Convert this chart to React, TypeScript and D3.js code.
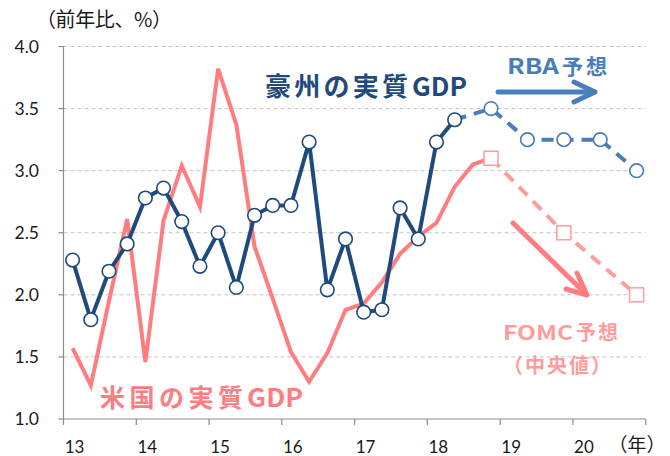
import React from "react";
import * as d3 from "d3";

const yTicks = [1.0, 1.5, 2.0, 2.5, 3.0, 3.5, 4.0];
const yearTicks = [2013, 2014, 2015, 2016, 2017, 2018, 2019, 2020, 2021];
const yearLabels = ["13", "14", "15", "16", "17", "18", "19", "20"];

// Quarterly YoY real GDP, 2013Q1 onwards
const ausActual = [2.28, 1.80, 2.19, 2.41, 2.78, 2.86, 2.59, 2.23, 2.50, 2.06, 2.64, 2.72, 2.72, 3.23, 2.04, 2.45, 1.86, 1.88, 2.70, 2.45, 3.23, 3.41];
const usActual = [1.57, 1.27, 1.95, 2.61, 1.46, 2.60, 3.04, 2.71, 3.82, 3.37, 2.39, 1.97, 1.54, 1.30, 1.53, 1.88, 1.93, 2.10, 2.33, 2.47, 2.58, 2.87, 3.05];

// Forecasts: quarter index (0 = 2013Q1) and value
const rbaQuarters = [23, 25, 27, 29, 31];
const rbaValues = [3.5, 3.25, 3.25, 3.25, 3.0];
const fomcQuarters = [23, 27, 31];
const fomcValues = [3.1, 2.5, 2.0];

const W = 670, H = 456;
const x = d3.scaleLinear().domain([2013, 2021]).range([63.5, 645.7]);
const y = d3.scaleLinear().domain([1, 4]).range([419, 46.5]);
const qx = (i: number) => x(2013 + (i + 0.5) / 4);

const DARK = "#1F4A7C";
const BLUE = "#4A7EBB";
const PINK = "#FF7C80";
const LPINK = "#FF9C9C";
const JP = "'Noto Sans CJK JP', 'Noto Sans', sans-serif";
const NUM = "Lato, 'Open Sans', sans-serif";

type P = [number, number];
const line = d3.line<P>().x((d) => d[0]).y((d) => d[1]);

function Label(props: { x: number; y: number; size: number; color: string; parts: [string, number, number, boolean][] }) {
  // parts: [text, x offset, length, stretch glyphs]
  return (
    <g>
      {props.parts.map(([t, dx, len, stretch], i) => (
        <text key={i} x={props.x + dx} y={props.y} fontFamily={JP} fontWeight="bold" fontSize={props.size} fill={props.color} textLength={len} lengthAdjust={stretch ? "spacingAndGlyphs" : "spacing"}>
          {t}
        </text>
      ))}
    </g>
  );
}

export default function App() {
  const ausPts: P[] = ausActual.map((v, i) => [qx(i), y(v)]);
  const usPts: P[] = usActual.map((v, i) => [qx(i), y(v)]);
  const rbaPts: P[] = rbaQuarters.map((q, i) => [qx(q), y(rbaValues[i])]);
  const fomcPts: P[] = fomcQuarters.map((q, i) => [qx(q), y(fomcValues[i])]);
  const lastAus = ausPts[ausPts.length - 1];
  const usSolid = [...usPts, fomcPts[0]];

  return (
    <svg width={W} height={H} style={{ position: "absolute", left: 0, top: 0, background: "#fff" }}>
      {/* gridlines */}
      {yTicks.slice(1).map((t) => (
        <line key={t} x1={x(2013)} x2={x(2021)} y1={y(t)} y2={y(t)} stroke="#C4C4C4" strokeWidth={1} strokeDasharray="4 3" />
      ))}
      {/* axes */}
      <line x1={x(2013)} x2={x(2013)} y1={y(4)} y2={y(1)} stroke="#8C8C8C" strokeWidth={1.2} />
      <line x1={x(2013)} x2={x(2021)} y1={y(1)} y2={y(1)} stroke="#8C8C8C" strokeWidth={1.2} />
      {yTicks.map((t) => (
        <g key={t}>
          <line x1={x(2013) - 5} x2={x(2013)} y1={y(t)} y2={y(t)} stroke="#8C8C8C" strokeWidth={1.2} />
          <text x={39} y={y(t) + 6} textAnchor="end" fontFamily={NUM} fontSize={17.5} fill="#1a1a1a">
            {t.toFixed(1)}
          </text>
        </g>
      ))}
      {yearTicks.map((t) => (
        <line key={t} x1={x(t)} x2={x(t)} y1={y(1)} y2={y(1) + 6} stroke="#8C8C8C" strokeWidth={1.2} />
      ))}
      {yearLabels.map((l, i) => (
        <text key={l} x={x(2013 + i) + 11} y={453} textAnchor="middle" fontFamily={NUM} fontSize={17} fill="#1a1a1a">
          {l}
        </text>
      ))}
      <text x={637} y={452} textAnchor="middle" fontFamily={JP} fontSize={19} fill="#1a1a1a">（年）</text>
      <text x={36} y={27} fontFamily={JP} fontSize={20} fill="#1a1a1a" textLength={136} lengthAdjust="spacing">（前年比、%）</text>

      {/* US actual */}
      <path d={line(usSolid) || ""} fill="none" stroke={PINK} strokeWidth={4} strokeLinejoin="miter" />
      {/* FOMC forecast */}
      <path d={line(fomcPts) || ""} fill="none" stroke={LPINK} strokeWidth={4} strokeDasharray="12 8" />
      {fomcPts.map((p, i) => (
        <rect key={i} x={p[0] - 7} y={p[1] - 7} width={14} height={14} fill="#fff" stroke={LPINK} strokeWidth={1.5} />
      ))}

      {/* Australia actual */}
      <path d={line([lastAus, ...rbaPts]) || ""} fill="none" stroke={BLUE} strokeWidth={4} strokeDasharray="12 8" />
      <path d={line(ausPts) || ""} fill="none" stroke={DARK} strokeWidth={4} strokeLinejoin="round" />
      {ausPts.map((p, i) => (
        <circle key={i} cx={p[0]} cy={p[1]} r={6.8} fill="#fff" stroke={DARK} strokeWidth={1.6} />
      ))}
      {rbaPts.map((p, i) => (
        <circle key={i} cx={p[0]} cy={p[1]} r={6.8} fill="#fff" stroke={BLUE} strokeWidth={1.6} />
      ))}

      {/* annotations */}
      <Label x={265} y={96} size={26} color={DARK} parts={[["豪州の実質", 0, 143, false], ["GDP", 147, 55, true]]} />
      <Label x={507} y={74} size={21} color={BLUE} parts={[["RBA", 0, 52, true], ["予想", 55, 45, false]]} />
      <g stroke={BLUE} strokeWidth={5} strokeLinecap="round" fill="none" strokeLinejoin="round">
        <line x1={498} y1={92} x2={594} y2={92} />
        <polyline points="574,82 595,92 574,102" />
      </g>
      <Label x={100} y={407} size={25} color={PINK} parts={[["米国の実質", 0, 143, false], ["GDP", 147, 56, true]]} />
      <Label x={503} y={340} size={20} color={LPINK} parts={[["FOMC", 0, 70, true], ["予想", 73, 42, false]]} />
      <Label x={503} y={373} size={20} color={LPINK} parts={[["（中央値）", 0, 108, false]]} />
      <g stroke={PINK} strokeWidth={5} strokeLinecap="round" fill="none" strokeLinejoin="round">
        <line x1={513} y1={223} x2={586} y2={294} />
        <polyline points="577,273 587,295 566,289" />
      </g>
    </svg>
  );
}
